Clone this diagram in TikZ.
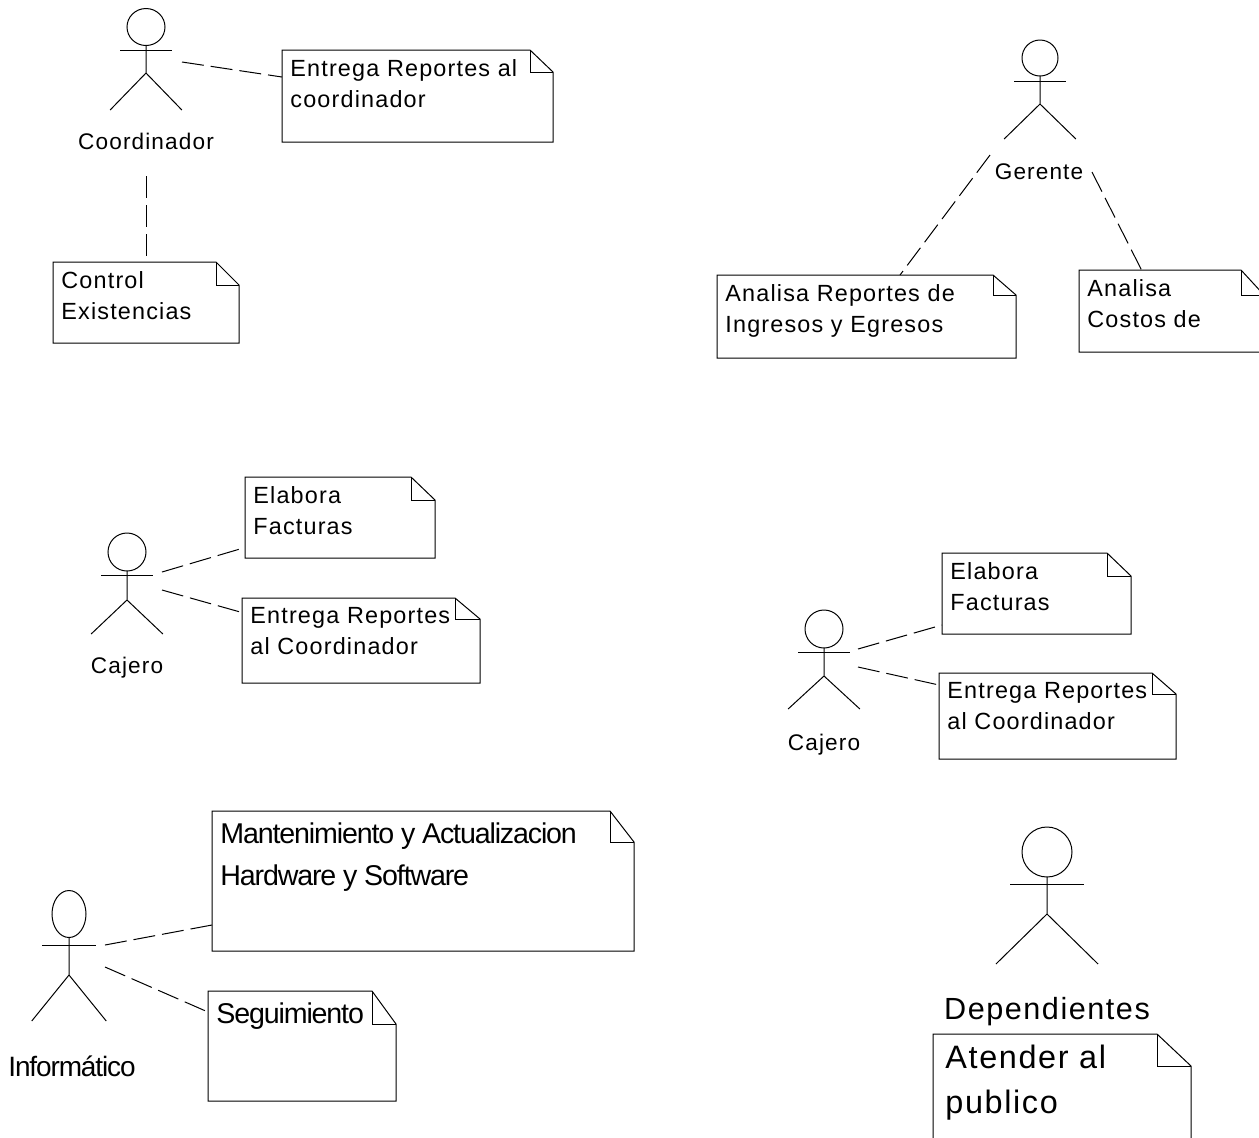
\documentclass[tikz,border=0pt]{standalone}
\usepackage{fontspec}
\setmainfont{Liberation Sans}
\newfontfamily\widefont[LetterSpace=5]{Liberation Sans}
\newfontfamily\tightfont[LetterSpace=-4]{Liberation Sans}
\usetikzlibrary{shapes.geometric,positioning}

% name, x, y, head width, head height, half arm, arm y, hip y, foot y
\newcommand{\actorfig}[9]{
    \node [head, minimum width=#4*0.5pt, minimum height=#5*0.5pt] (#1) at (#2,#3) {};
    \draw [thinline] (#2-#6,#7) -- (#2+#6,#7);
    \draw [thinline] (#1.south) -- (#2,#8) coordinate (#1hip)
        -- (#2-#6*1.38,#9) (#1hip) -- (#2+#6*1.38,#9);
}
% name, left, top, right, bottom, ear width, ear height, text style, text
\newcommand{\notefig}[9]{
    \node [notebox, minimum width=(#4-#2)*0.5pt, minimum height=(#5-#3)*0.5pt]
        (#1) at ({(#2+#4)/2},{(#3+#5)/2}) {};
    \draw [thinline] (#1.south west) -- (#1.north west) -- (#4-#6,#3) -- (#4,#3+#7)
        -- (#1.south east) -- cycle;
    \draw [thinline] (#4-#6,#3) -- (#4-#6,#3+#7) -- (#4,#3+#7);
    \node [#8] (#1txt) at ([xshift=4pt,yshift=-4pt]#1.north west) {#9};
}

\begin{document}
\begin{tikzpicture}[x=0.5pt,y=-0.5pt,
head/.style={draw,ellipse,inner sep=0pt,outer sep=0pt,line width=0.5pt},
notebox/.style={rectangle,inner sep=0pt,outer sep=0pt},
thinline/.style={line width=0.5pt},
link/.style={line width=0.5pt,dash pattern=on 11pt off 3.5pt},
actorname/.style={font=\widefont\fontsize{11.3}{14}\selectfont,inner sep=0pt},
notetext/.style={font=\widefont\fontsize{11.7}{15.7}\selectfont,align=left,anchor=north west,inner sep=0pt,yshift=-0.5pt},
tighttext/.style={font=\tightfont\fontsize{14.3}{21}\selectfont,align=left,anchor=north west,inner sep=0pt,yshift=-1.5pt},
bigtext/.style={font=\widefont\fontsize{16.2}{22.5}\selectfont,align=left,anchor=north west,inner sep=0pt,xshift=2pt,yshift=-1.5pt}]

    \useasboundingbox (0,0) rectangle (1259,1137);

    % coordinador
    \actorfig{coordinador}{146}{27}{38}{37}{26}{50}{73}{110}
    \node [actorname] (coordinadorname) at (146,141) {Coordinador};
    \notefig{entrega}{282}{50}{553}{142}{23}{22}{notetext}{Entrega Reportes al\\coordinador}
    \notefig{control}{53}{262}{239}{343}{23}{23}{notetext}{Control\\Existencias}
    \coordinate (coordinadorright) at (182,62);
    \coordinate (coordinadordown) at (146,176);
    \draw [link] (coordinadorright) -- ([yshift=9.5pt]entrega.west);
    \draw [link] (coordinadordown) -- (control.north);

    % gerente
    \actorfig{gerente}{1040}{58}{36}{36}{26}{81}{104}{139}
    \node [actorname] (gerentename) at (1039,172) {Gerente};
    \notefig{ingresos}{717}{275}{1016}{358}{23}{20}{notetext}{Analisa Reportes de\\Ingresos y Egresos}
    \notefig{costos}{1079}{270}{1264}{352}{23}{25}{notetext}{Analisa\\Costos de}
    \coordinate (gerenteleft) at (990,155);
    \coordinate (gerenteright) at (1092,172);
    \draw [link] (gerenteleft) -- ([xshift=16.75pt]ingresos.north);
    \draw [link] (gerenteright) -- ([xshift=-15pt]costos.north);

    % cajero izquierda
    \actorfig{cajero}{127}{552}{38}{38}{26}{575}{600}{634}
    \node [actorname] (cajeroname) at (127,668) {Cajero};
    \notefig{facturas}{245}{477}{435}{558}{24}{23}{notetext}{Elabora\\Facturas}
    \notefig{reportes}{242}{598}{480}{683}{25}{21}{notetext}{Entrega Reportes\\al Coordinador}
    \coordinate (cajeroup) at (162,572);
    \coordinate (cajerodown) at (162,590);
    \draw [link] (cajeroup) -- ([yshift=-15pt]facturas.west);
    \draw [link] (cajerodown) -- ([yshift=14pt]reportes.west);

    % cajero derecha
    \actorfig{cajerob}{824}{629}{38}{38}{26}{652}{676}{709}
    \node [actorname] (cajerobname) at (824,745) {Cajero};
    \notefig{facturasb}{942}{553}{1131}{634}{24}{23}{notetext}{Elabora\\Facturas}
    \notefig{reportesb}{939}{673}{1176}{759}{24}{21}{notetext}{Entrega Reportes\\al Coordinador}
    \coordinate (cajerobup) at (858,649);
    \coordinate (cajerobdown) at (858,667);
    \draw [link] (cajerobup) -- ([yshift=-15.75pt]facturasb.west);
    \draw [link] (cajerobdown) -- ([yshift=15.5pt]reportesb.west);

    % informatico
    \actorfig{informatico}{69}{914}{34}{47}{27}{945}{975}{1021}
    \node [actorname, font=\tightfont\fontsize{14}{16}\selectfont] (informaticoname) at (72,1066) {Informático};
    \notefig{mantenimiento}{212}{811}{634}{951}{24}{31}{tighttext}{Mantenimiento y Actualizacion\\Hardware y Software}
    \notefig{seguimiento}{208}{991}{396}{1101}{24}{33}{tighttext}{Seguimiento}
    \coordinate (informaticoup) at (105,945);
    \coordinate (informaticodown) at (105,967);
    \draw [link] (informaticoup) -- ([yshift=-22pt]mantenimiento.west);
    \draw [link] (informaticodown) -- ([yshift=17pt]seguimiento.west);

    % dependientes
    \actorfig{dependientes}{1047}{852}{50}{50}{37}{884}{914}{964}
    \node [actorname, font=\widefont\fontsize{15.3}{18}\selectfont] (dependientesname) at (1047,1012) {Dependientes};
    \notefig{publico}{933}{1034}{1191}{1160}{34}{32}{bigtext}{Atender al\\publico}
\end{tikzpicture}
\end{document}
